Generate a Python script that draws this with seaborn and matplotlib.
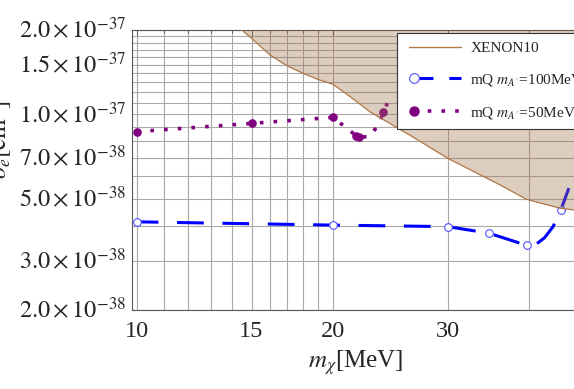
import numpy as np
import pandas as pd
import matplotlib
matplotlib.use("Agg")
import matplotlib.pyplot as plt
import seaborn as sns
from matplotlib.lines import Line2D
from matplotlib.legend_handler import HandlerLine2D
from matplotlib.ticker import FixedLocator, FixedFormatter, NullFormatter

# ---------------- data ----------------
xenon_mass = [14.5, 15, 16, 17, 18, 19, 20, 21, 22.8, 26.4, 30, 36.1, 39.6, 44.6, 47, 50]
xenon_sigma = [2.0e-37, 1.87e-37, 1.63e-37, 1.49e-37, 1.40e-37, 1.33e-37, 1.28e-37, 1.18e-37,
               1.02e-37, 8.35e-38, 6.96e-38, 5.59e-38, 4.97e-38, 4.62e-38, 4.55e-38, 4.5e-38]

mq100_mass = [10, 20, 30, 34.7, 39.7, 40.8, 42.2, 43.5, 44.7, 46.0]
mq100_sigma = [4.13e-38, 4.02e-38, 3.97e-38, 3.76e-38, 3.40e-38, 3.41e-38, 3.62e-38, 3.97e-38,
               4.55e-38, 5.45e-38]
mq100_marked = [0, 1, 2, 3, 4, 8]

mq50_mass = [10, 15, 20, 21.7, 21.9, 22.7, 23.4, 23.9, 24.4]
mq50_sigma = [8.67e-38, 9.28e-38, 9.75e-38, 8.39e-38, 8.31e-38, 8.31e-38, 9.06e-38, 1.016e-37,
              1.14e-37]
mq50_marked = [0, 1, 2, 3, 4, 7]

x_major = [10, 15, 20, 30]
x_major_labels = ["10", "15", "20", "30"]
x_minor = [11, 12, 13, 14, 16, 17, 18, 19, 40, 50]
y_major = [2e-38, 3e-38, 5e-38, 7e-38, 1e-37, 1.5e-37, 2e-37]
y_major_labels = [r"$2.0\times10^{-38}$", r"$3.0\times10^{-38}$", r"$5.0\times10^{-38}$",
                  r"$7.0\times10^{-38}$", r"$1.0\times10^{-37}$", r"$1.5\times10^{-37}$",
                  r"$2.0\times10^{-37}$"]
y_minor = [4e-38, 6e-38, 8e-38, 9e-38, 1.1e-37, 1.2e-37, 1.3e-37, 1.4e-37,
           1.6e-37, 1.7e-37, 1.8e-37, 1.9e-37]

legend_labels = ["XENON10", r"mQ $m_{A'}$=100MeV", r"mQ $m_{A'}$=50MeV"]

# ---------------- style ----------------
sns.set_style("white")
plt.rcParams["font.family"] = ["Liberation Serif", "DejaVu Serif"]
plt.rcParams["mathtext.fontset"] = "stix"

W, H = 574, 389
fig = plt.figure(figsize=(W / 100, H / 100), dpi=100)
ax_l, ax_r, ax_t, ax_b = 131.7, 592.5, 30.0, 310.0
ax = fig.add_axes([ax_l / W, 1 - ax_b / H, (ax_r - ax_l) / W, (ax_b - ax_t) / H])
ax.set_xscale("log")
ax.set_yscale("log")
ax.set_xlim(9.825, 50)
ax.set_ylim(2e-38, 2e-37)

xen_color = "#b07846"
blue = "#0000ff"
purple = "#800080"
blue_ls = (1.64, (8.75, 6.1))
purple_ls = (0, (1, 2.8))

df100 = pd.DataFrame({"m": mq100_mass, "s": mq100_sigma})
df50 = pd.DataFrame({"m": mq50_mass, "s": mq50_sigma})
dfx = pd.DataFrame({"m": xenon_mass, "s": xenon_sigma})

sns.lineplot(data=df100, x="m", y="s", ax=ax, color=blue, lw=2.2,
             linestyle=blue_ls, dash_capstyle="butt", sort=False,
             marker="o", markevery=mq100_marked, markersize=5.5,
             markerfacecolor="white", markeredgecolor="#5050ff", markeredgewidth=0.8,
             zorder=3)
sns.lineplot(data=df50, x="m", y="s", ax=ax, color=purple, lw=2.6,
             linestyle=purple_ls, dash_capstyle="butt", sort=False,
             marker="o", markevery=mq50_marked, markersize=6.2,
             markerfacecolor=purple, markeredgecolor=purple, markeredgewidth=0,
             zorder=3)

ytop = ax.get_ylim()[1]
ax.fill_between(dfx["m"], dfx["s"], ytop, color="#a0714a", alpha=0.35, lw=0, zorder=5)
sns.lineplot(data=dfx, x="m", y="s", ax=ax, color=xen_color, lw=0.9, sort=False, zorder=6)

# ticks & grid
ax.xaxis.set_major_locator(FixedLocator(x_major))
ax.xaxis.set_major_formatter(FixedFormatter(x_major_labels))
ax.xaxis.set_minor_locator(FixedLocator(x_minor))
ax.xaxis.set_minor_formatter(NullFormatter())
ax.yaxis.set_major_locator(FixedLocator(y_major))
ax.yaxis.set_major_formatter(FixedFormatter(y_major_labels))
ax.yaxis.set_minor_locator(FixedLocator(y_minor))
ax.yaxis.set_minor_formatter(NullFormatter())

ax.set_axisbelow(True)
ax.grid(True, which="both", color="#a8a8a8", lw=0.8)
ax.tick_params(which="both", direction="in", top=True, right=True, color="#555555",
               labelsize=17.5)
ax.tick_params(which="major", length=4, width=0.7)
ax.tick_params(which="minor", length=2, width=0.6)
ax.tick_params(axis="x", pad=8)
ax.tick_params(axis="y", pad=4)
for lbl in ax.get_yticklabels():
    lbl.set_verticalalignment("center")
for sp in ax.spines.values():
    sp.set_color("#555555")
    sp.set_linewidth(0.8)

ax.set_xlabel(r"$m_\chi$[MeV]", fontsize=18)
ax.xaxis.set_label_coords((356 - ax_l) / (ax_r - ax_l), (ax_b - 348) / (ax_b - ax_t))
ax.set_ylabel(r"$\sigma_e[\mathrm{cm}^2]$", fontsize=18)
ax.yaxis.set_label_coords((14 - ax_l) / (ax_r - ax_l), (ax_b - 140) / (ax_b - ax_t))


class ShiftedHandler(HandlerLine2D):
    """Line handle whose start is moved right; optional marker at the left end."""

    def __init__(self, shift_pt=0.0, marker_left=False, **kw):
        super().__init__(**kw)
        self.shift_pt = shift_pt
        self.marker_left = marker_left

    def create_artists(self, legend, orig_handle, xdescent, ydescent, width, height,
                       fontsize, trans):
        arts = super().create_artists(legend, orig_handle, xdescent, ydescent, width,
                                      height, fontsize, trans)
        for a in arts:
            x = np.asarray(a.get_xdata(), float)
            a.set_xdata(np.linspace(x[0] + self.shift_pt, x[-1], len(x)))
            if self.marker_left:
                a.set_markevery([0])
        return arts


h_x = Line2D([], [], color=xen_color, lw=1.0)
h_100 = Line2D([], [], color=blue, lw=2.2, linestyle=(0, (6.2, 5.2)), dash_capstyle="butt",
               marker="o", markersize=7, markerfacecolor="white",
               markeredgecolor="#5050ff", markeredgewidth=0.8)
h_50 = Line2D([], [], color=purple, lw=2.6, linestyle=purple_ls, dash_capstyle="butt",
              marker="o", markersize=7.5, markerfacecolor=purple, markeredgewidth=0)
leg = ax.legend([h_x, h_100, h_50], legend_labels,
                handler_map={h_x: ShiftedHandler(2.45),
                             h_100: ShiftedHandler(6.3, True),
                             h_50: ShiftedHandler(6.3, True)},
                loc="upper left", bbox_to_anchor=(396.7 / W, 1 - 33.3 / H),
                bbox_transform=fig.transFigure, borderaxespad=0, fontsize=11,
                handlelength=3.65, handletextpad=0.61, borderpad=0.55, labelspacing=1.1,
                fancybox=False, framealpha=1, edgecolor="#333333")
leg.get_frame().set_linewidth(0.8)
leg.set_zorder(10)

fig.savefig("out.png", dpi=100)
